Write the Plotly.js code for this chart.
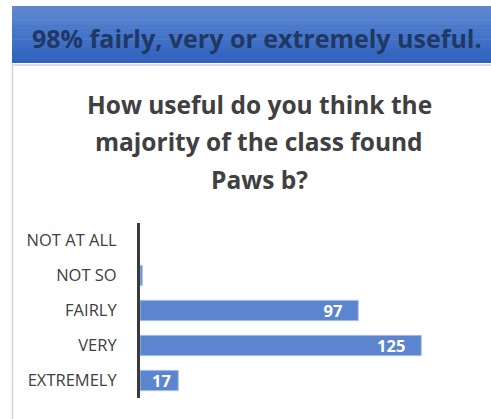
<!DOCTYPE html>
<html>
<head>
<meta charset="utf-8">
<script src="https://cdn.plot.ly/plotly-3.0.1.min.js"></script>
<style>html,body{margin:0;padding:0;background:#fff;}#chart{width:491px;height:419px;}</style>
</head>
<body>
<div id="chart"></div>
<script>
// ---- data ----
const categories = ["NOT AT ALL", "NOT SO", "FAIRLY", "VERY", "EXTREMELY"];
const counts = [0, 1, 97, 125, 17];
const valueLabels = ["", "", "97", "125", "17"];
const headline = "98% fairly, very or extremely useful.";
const titleLines = ["How useful do you think the", "majority of the class found", "Paws b?"];

// ---- layout geometry (pixels) ----
const W = 491, H = 419;
const plotL = 140, plotR = 455, plotT = 223, plotB = 398;
const px = x => (x - plotL) / (plotR - plotL);
const py = y => (plotB - y) / (plotB - plotT);
const FONT = "'Open Sans', 'Liberation Sans', sans-serif";

// banner gradient bands
const shapes = [];
const gradTop = [93, 136, 209], gradBot = [47, 97, 190];
const bandTop = 6, bandBot = 63, nb = 12;
for (let i = 0; i < nb; i++) {
  const t = i / (nb - 1);
  const c = gradTop.map((v, k) => Math.round(v + (gradBot[k] - v) * t));
  const y0 = bandTop + (bandBot - bandTop) * i / nb;
  const y1 = bandTop + (bandBot - bandTop) * (i + 1) / nb + 0.6;
  shapes.push({type: "rect", xref: "paper", yref: "paper", layer: "below",
    x0: px(12), x1: px(492), y0: py(y0), y1: py(Math.min(y1, bandBot)),
    fillcolor: `rgb(${c[0]},${c[1]},${c[2]})`, line: {width: 0}});
}
// light grey frame below banner
shapes.push({type: "rect", xref: "paper", yref: "paper", layer: "below",
  x0: px(12.5), x1: px(495), y0: py(65), y1: py(425),
  fillcolor: "rgba(0,0,0,0)", line: {color: "#d4d4d4", width: 1.5}});

const trace = {
  type: "bar",
  orientation: "h",
  y: categories,
  x: counts,
  text: valueLabels,
  texttemplate: counts.map(v => v > 30 ? "%{text}\u00a0\u00a0\u00a0" : "%{text}\u00a0"),
  textposition: "inside",
  insidetextanchor: "end",
  constraintext: "none",
  textfont: {family: FONT, size: 16.5, color: "#ffffff", weight: "bold"},
  marker: {color: "#5b85ce", line: {color: "#a9c0e8", width: counts.map(v => v > 0 ? 1 : 0)}},
  hoverinfo: "skip"
};

const annotations = [{
  xref: "paper", yref: "paper", x: px(257), y: py(38),
  xanchor: "center", yanchor: "middle", showarrow: false,
  text: headline,
  font: {family: FONT, size: 25, color: "#1f3864", weight: "bold"}
}];
const titleMid = [104, 141.5, 179];
titleLines.forEach((line, i) => annotations.push({
  xref: "paper", yref: "paper", x: px(259), y: py(titleMid[i]),
  xanchor: "center", yanchor: "middle", showarrow: false,
  text: line,
  font: {family: FONT, size: 24.5, color: "#404040", weight: "bold"}
}));

const layout = {
  width: W, height: H,
  paper_bgcolor: "#ffffff", plot_bgcolor: "rgba(0,0,0,0)",
  margin: {l: plotL, r: W - plotR, t: plotT, b: H - plotB, pad: 0},
  showlegend: false,
  bargap: 0.42,
  xaxis: {
    range: [0, 140], showgrid: false, zeroline: false, showline: false,
    showticklabels: false, ticks: "", fixedrange: true
  },
  yaxis: {
    type: "category", autorange: "reversed",
    showgrid: false, zeroline: false,
    showline: true, linecolor: "#3a3a3a", linewidth: 3,
    ticks: "", ticklabelstandoff: 17,
    tickfont: {family: FONT, size: 16.5, color: "#404040"},
    fixedrange: true
  },
  shapes: shapes,
  annotations: annotations
};

Plotly.newPlot("chart", [trace], layout, {displayModeBar: false, staticPlot: true});
</script>
</body>
</html>
